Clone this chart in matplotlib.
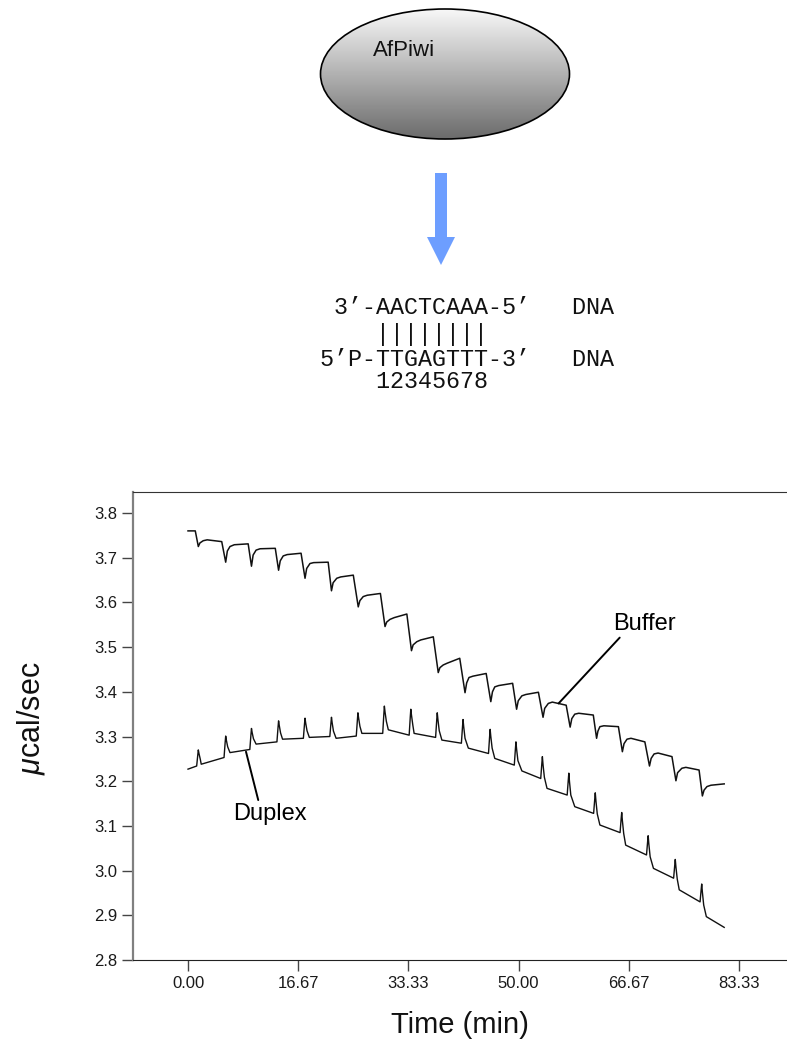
import numpy as np
import matplotlib
matplotlib.use("Agg")
import matplotlib.pyplot as plt
from matplotlib.patches import Ellipse, FancyArrow

plt.rcParams['font.family'] = ['Liberation Sans', 'DejaVu Sans']
plt.rcParams['mathtext.fontset'] = 'custom'
plt.rcParams['mathtext.it'] = 'Liberation Sans:italic'
plt.rcParams['mathtext.rm'] = 'Liberation Sans'

# ITC traces: time (min) and power (ucal/sec), one row per injection
buffer_t = [0.0,
            1.1, 1.56, 1.8, 2.3, 2.9,
            5.1, 5.7, 5.95, 6.35, 7.0,
            9.1, 9.6, 9.85, 10.3, 10.9,
            13.2, 13.7, 13.95, 14.4, 15.0,
            17.1, 17.7, 17.95, 18.45, 19.0,
            21.2, 21.7, 21.95, 22.5, 23.1,
            25.0, 25.75, 26.0, 26.5, 27.1,
            29.1, 29.8, 30.05, 30.55, 31.2,
            33.1, 33.8, 34.05, 34.6, 35.2,
            37.1, 37.85, 38.1, 38.6, 39.2,
            41.1, 41.9, 42.15, 42.5, 43.1,
            45.1, 45.8, 46.05, 46.4, 47.0,
            49.1, 49.7, 49.95, 50.5, 51.1,
            53.0, 53.7, 53.95, 54.5, 55.1,
            57.2, 57.8, 58.05, 58.5, 59.1,
            61.3, 61.8, 62.0, 62.3, 62.9,
            65.1, 65.7, 65.95, 66.4, 67.0,
            69.1, 69.8, 70.05, 70.5, 71.1,
            73.2, 73.8, 74.05, 74.7, 75.3,
            77.3, 77.8, 78.05, 78.5, 79.1,
            81.1]
buffer_v = [3.760,
            3.760, 3.725, 3.733, 3.738, 3.740,
            3.736, 3.690, 3.715, 3.725, 3.729,
            3.731, 3.681, 3.706, 3.717, 3.720,
            3.721, 3.672, 3.693, 3.704, 3.707,
            3.710, 3.654, 3.676, 3.687, 3.689,
            3.690, 3.626, 3.644, 3.654, 3.657,
            3.661, 3.590, 3.604, 3.613, 3.616,
            3.620, 3.546, 3.556, 3.562, 3.566,
            3.574, 3.492, 3.505, 3.512, 3.516,
            3.523, 3.443, 3.454, 3.460, 3.464,
            3.475, 3.398, 3.420, 3.432, 3.435,
            3.441, 3.378, 3.400, 3.411, 3.414,
            3.419, 3.361, 3.380, 3.391, 3.394,
            3.399, 3.343, 3.363, 3.374, 3.377,
            3.370, 3.321, 3.340, 3.350, 3.352,
            3.348, 3.296, 3.312, 3.322, 3.324,
            3.322, 3.266, 3.284, 3.294, 3.296,
            3.288, 3.234, 3.251, 3.261, 3.263,
            3.255, 3.201, 3.219, 3.229, 3.231,
            3.225, 3.167, 3.180, 3.188, 3.191,
            3.194]

duplex_t = [0.0,
            1.31, 1.48, 1.56, 1.66, 1.86, 2.0,
            5.45, 5.62, 5.7, 5.8, 6.0, 6.35,
            9.35, 9.52, 9.6, 9.7, 9.9, 10.3,
            13.45, 13.62, 13.7, 13.8, 14.0, 14.3,
            17.45, 17.62, 17.7, 17.8, 18.0, 18.35,
            21.45, 21.62, 21.7, 21.8, 22.0, 22.4,
            25.45, 25.62, 25.7, 25.8, 26.0, 26.3,
            29.45, 29.62, 29.7, 29.8, 30.0, 30.3,
            33.45, 33.62, 33.7, 33.8, 34.0, 34.2,
            37.45, 37.62, 37.7, 37.8, 38.0, 38.4,
            41.35, 41.52, 41.6, 41.7, 41.9, 42.4,
            45.45, 45.62, 45.7, 45.8, 46.0, 46.4,
            49.35, 49.52, 49.6, 49.7, 49.9, 50.5,
            53.35, 53.52, 53.6, 53.7, 53.9, 54.3,
            57.35, 57.52, 57.6, 57.7, 57.9, 58.5,
            61.35, 61.52, 61.6, 61.7, 61.9, 62.3,
            65.35, 65.52, 65.6, 65.7, 65.9, 66.2,
            69.35, 69.52, 69.6, 69.7, 69.9, 70.4,
            73.45, 73.62, 73.7, 73.8, 74.0, 74.3,
            77.45, 77.62, 77.7, 77.8, 78.0, 78.4,
            81.1]
duplex_v = [3.227,
            3.234, 3.259, 3.270, 3.262, 3.249, 3.238,
            3.253, 3.287, 3.301, 3.292, 3.277, 3.264,
            3.271, 3.304, 3.318, 3.309, 3.295, 3.283,
            3.288, 3.321, 3.335, 3.325, 3.308, 3.294,
            3.296, 3.328, 3.341, 3.330, 3.313, 3.298,
            3.300, 3.330, 3.343, 3.331, 3.312, 3.296,
            3.301, 3.337, 3.353, 3.342, 3.323, 3.307,
            3.307, 3.350, 3.368, 3.355, 3.334, 3.315,
            3.303, 3.344, 3.361, 3.348, 3.326, 3.307,
            3.298, 3.337, 3.353, 3.338, 3.313, 3.292,
            3.285, 3.322, 3.338, 3.322, 3.296, 3.274,
            3.262, 3.300, 3.316, 3.300, 3.274, 3.251,
            3.236, 3.272, 3.288, 3.272, 3.246, 3.223,
            3.206, 3.240, 3.255, 3.237, 3.209, 3.184,
            3.169, 3.203, 3.218, 3.199, 3.169, 3.143,
            3.128, 3.160, 3.174, 3.156, 3.127, 3.102,
            3.085, 3.117, 3.130, 3.112, 3.083, 3.057,
            3.035, 3.065, 3.078, 3.060, 3.031, 3.005,
            2.983, 3.012, 3.025, 3.008, 2.981, 2.957,
            2.930, 2.958, 2.970, 2.952, 2.923, 2.897,
            2.873]

x_ticks = [0.0, 16.67, 33.33, 50.0, 66.67, 83.33]
x_ticklabels = ['0.00', '16.67', '33.33', '50.00', '66.67', '83.33']
y_ticks = [2.8, 2.9, 3.0, 3.1, 3.2, 3.3, 3.4, 3.5, 3.6, 3.7, 3.8]

seq_lines = [' 3’-AACTCAAA-5’   DNA',
             '    ||||||||',
             '5’P-TTGAGTTT-3’   DNA',
             '    12345678']

W, H = 787, 1051
fig = plt.figure(figsize=(W / 100, H / 100), dpi=100)

# top drawing in pixel coordinates
top = fig.add_axes([0, 0, 1, 1])
top.set_xlim(0, W)
top.set_ylim(H, 0)
top.axis('off')

ell = Ellipse((445, 74), 249, 130, facecolor='none', edgecolor='black', lw=1.2, zorder=3)
top.add_patch(ell)
grad = np.linspace(0.97, 0.42, 256).reshape(-1, 1)
img = top.imshow(grad, cmap='gray', vmin=0, vmax=1, aspect='auto',
                 extent=(320, 570, 139, 9), zorder=2)
img.set_clip_path(ell)
top.text(373, 50, 'AfPiwi', fontsize=16, ha='left', va='center', color='#111111')

top.add_patch(FancyArrow(441, 173, 0, 92, width=12, head_width=28, head_length=28,
                         length_includes_head=True, color='#6d9eff', lw=0))

for line, y in zip(seq_lines, [307, 335, 360, 382]):
    top.text(320, y, line, family='Liberation Mono', fontsize=16.8,
             ha='left', va='center', color='#111111')

# ITC plot
x0, x1 = 133 / W, 1.0
y0, y1 = 1 - 960 / H, 1 - 492 / H
ax = fig.add_axes([x0, y0, x1 - x0, y1 - y0])
ax.plot(buffer_t, buffer_v, color='#111111', lw=1.1)
ax.plot(duplex_t, duplex_v, color='#111111', lw=1.0)

ax.set_xlim(-8.32, 90.6)
ax.set_ylim(2.8, 3.847)
ax.set_xticks(x_ticks)
ax.set_xticklabels(x_ticklabels)
ax.set_yticks(y_ticks)
ax.set_yticklabels([f'{v:.1f}' for v in y_ticks])
ax.tick_params(direction='out', length=8, width=1, color='#444444',
               labelsize=12, labelcolor='#1a1a1a')
ax.spines['right'].set_visible(False)
ax.spines['left'].set_color('#808080')
ax.spines['left'].set_linewidth(1.6)
ax.spines['top'].set_color('#333333')
ax.spines['bottom'].set_color('#222222')

ax.set_xlabel('Time (min)', fontsize=21, color='#111111')
ax.xaxis.set_label_coords(0.5, -0.139)
ax.xaxis.label.set_va('center')
ax.set_ylabel(r'$\mu$cal/sec', fontsize=22, color='#111111')
ax.yaxis.set_label_coords(-0.156, 0.517)
ax.yaxis.label.set_va('center')

ax.annotate('Buffer', xy=(56.05, 3.374), xytext=(69.0, 3.552), fontsize=17,
            ha='center', va='center',
            arrowprops=dict(arrowstyle='-', color='black', lw=1.4,
                            shrinkA=0, shrinkB=0, relpos=(0.15, 0.0)))
ax.annotate('Duplex', xy=(8.77, 3.266), xytext=(12.4, 3.127), fontsize=17,
            ha='center', va='center',
            arrowprops=dict(arrowstyle='-', color='black', lw=1.4,
                            shrinkA=0, shrinkB=0, relpos=(0.35, 1.0)))

fig.savefig('out.png', dpi=100)
